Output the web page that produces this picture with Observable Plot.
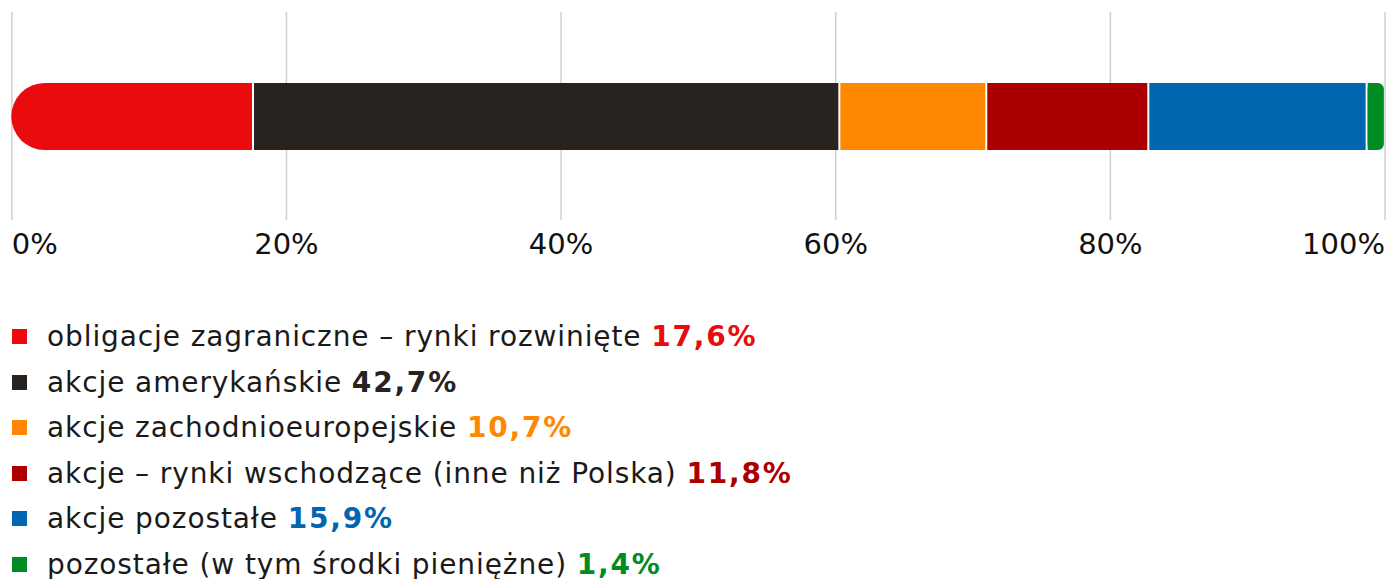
<!DOCTYPE html>
<html>
<head>
<meta charset="utf-8">
<script src="https://cdn.jsdelivr.net/npm/d3@7"></script>
<script src="https://cdn.jsdelivr.net/npm/@observablehq/plot@0.6"></script>
<style>
  html, body { margin: 0; padding: 0; background: #fff; }
  body { width: 1393px; height: 579px; overflow: hidden; font-family: "DejaVu Sans", Verdana, sans-serif; }
  #legend { margin-top: 24px; }
  .item { height: 45.5px; line-height: 45.5px; font-size: 28px; letter-spacing: 0.9px; color: #1a1a1a; white-space: nowrap; position: relative; }
  .sw { position: absolute; left: 12px; top: 15px; width: 15px; height: 15px; }
  .lbl { position: absolute; left: 47px; top: 0; }
  .lbl b { font-weight: bold; letter-spacing: 1.8px; }
</style>
</head>
<body>
<div id="chart"></div>
<div id="legend"></div>
<script>
const categories = [
  "obligacje zagraniczne – rynki rozwinięte",
  "akcje amerykańskie",
  "akcje zachodnioeuropejskie",
  "akcje – rynki wschodzące (inne niż Polska)",
  "akcje pozostałe",
  "pozostałe (w tym środki pieniężne)"
];
const values = [17.6, 42.7, 10.7, 11.8, 15.9, 1.4];
const valueLabels = ["17,6%", "42,7%", "10,7%", "11,8%", "15,9%", "1,4%"];
const colors = ["#e90b0e", "#28231f", "#ff8800", "#ac0000", "#0066b0", "#008c24"];
const ticks = [0, 20, 40, 60, 80, 100];

let acc = 0;
const rows = categories.map((c, i) => {
  const r = {category: c, value: values[i], x1: acc, x2: acc + values[i], color: colors[i]};
  acc += values[i];
  return r;
});
const first = rows[0];
const last = rows[rows.length - 1];
const middle = rows.slice(1, rows.length - 1);

const barOpts = {insetTop: 71, insetBottom: 70};

const chart = Plot.plot({
  width: 1393,
  height: 290,
  marginLeft: 11.3,
  marginRight: 8.5,
  marginTop: 12,
  marginBottom: 70,
  style: {fontFamily: "DejaVu Sans, Verdana, sans-serif", fontSize: "29px", color: "#111"},
  x: {domain: [0, 100], axis: null},
  marks: [
    Plot.ruleX(ticks, {stroke: "#cfcfcf", strokeWidth: 1.5}),
    // square right part of the first category, then its rounded left end
    Plot.barX([first], {x1: d => (d.x1 + d.x2) / 2, x2: "x2", fill: "color", insetRight: 1, ...barOpts}),
    Plot.barX([first], {x1: "x1", x2: "x2", fill: "color", rx: 33.5, ry: 33.5, insetRight: 1, ...barOpts}),
    // middle categories
    Plot.barX(middle, {x1: "x1", x2: "x2", fill: "color", insetLeft: 1, insetRight: 1, ...barOpts}),
    // rounded right end (last category)
    Plot.barX([last], {x1: "x1", x2: d => (d.x1 + d.x2) / 2, fill: "color", insetLeft: 1, ...barOpts}),
    Plot.barX([last], {x1: "x1", x2: "x2", fill: "color", rx: 6, ry: 6, insetLeft: 1, insetRight: 2, ...barOpts}),
    Plot.axisX({ticks: [ticks[0]], tickSize: 0, tickPadding: 13, textAnchor: "start", tickFormat: d => d + "%", fontSize: 29}),
    Plot.axisX({ticks: ticks.slice(1, -1), tickSize: 0, tickPadding: 13, tickFormat: d => d + "%", fontSize: 29}),
    Plot.axisX({ticks: [ticks[ticks.length - 1]], tickSize: 0, tickPadding: 13, textAnchor: "end", tickFormat: d => d + "%", fontSize: 29})
  ]
});
document.getElementById("chart").appendChild(chart);

const legend = document.getElementById("legend");
rows.forEach((r, i) => {
  const item = document.createElement("div");
  item.className = "item";
  const sw = document.createElement("span");
  sw.className = "sw";
  sw.style.background = r.color;
  const lbl = document.createElement("span");
  lbl.className = "lbl";
  lbl.textContent = r.category + " ";
  const b = document.createElement("b");
  b.textContent = valueLabels[i];
  b.style.color = r.color;
  lbl.appendChild(b);
  item.appendChild(sw);
  item.appendChild(lbl);
  legend.appendChild(item);
});
</script>
</body>
</html>
